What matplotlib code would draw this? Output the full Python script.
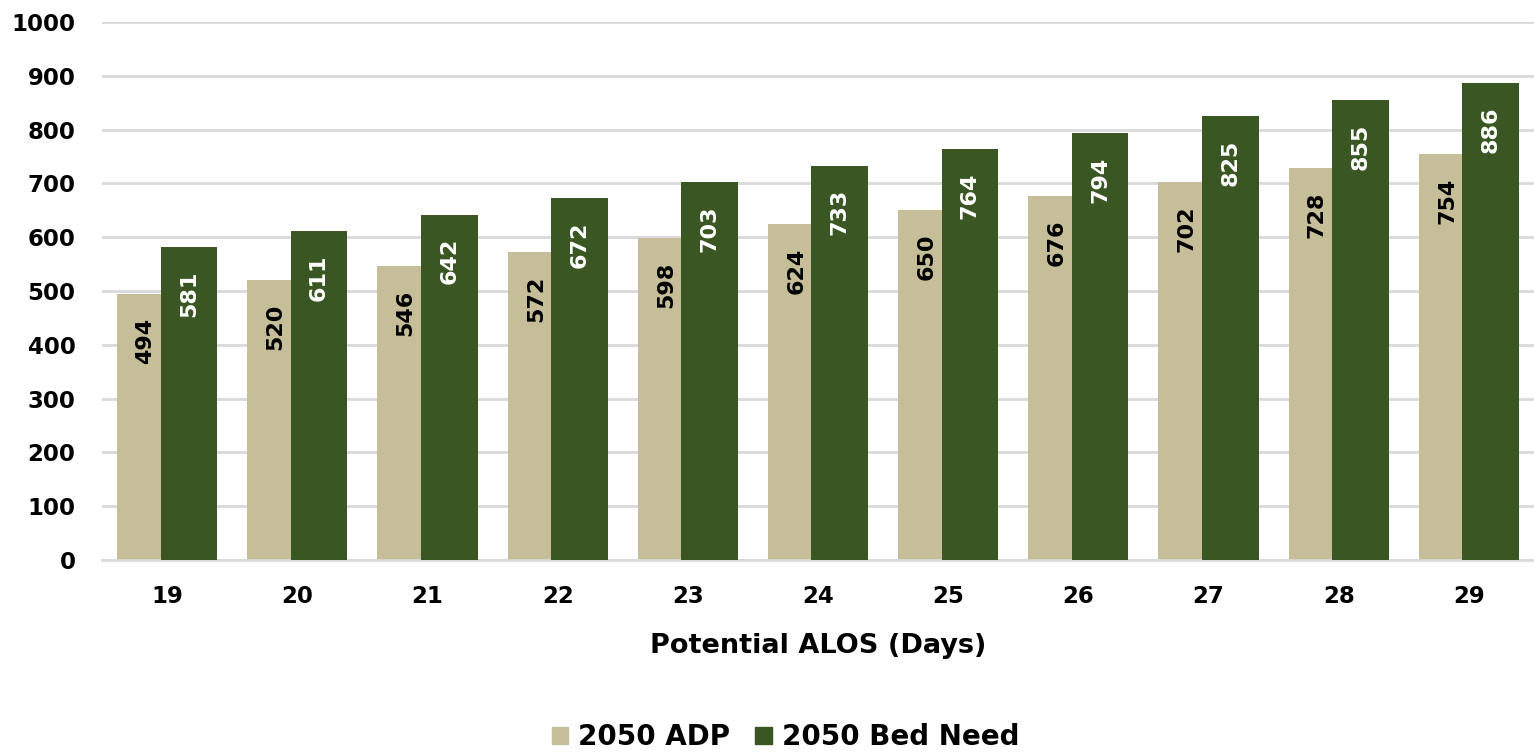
import numpy as np
import matplotlib.pyplot as plt
from matplotlib.patches import Patch

alos_days = ["19", "20", "21", "22", "23", "24", "25", "26", "27", "28", "29"]
adp_2050 = [494, 520, 546, 572, 598, 624, 650, 676, 702, 728, 754]
bed_need_2050 = [581, 611, 642, 672, 703, 733, 764, 794, 825, 855, 886]

TAN = "#C5BE98"
GREEN = "#3A5723"
FONT = "DejaVu Sans"

fig = plt.figure(figsize=(15.34, 7.53), dpi=100)
ax = fig.add_axes([0.0665, 0.2563, 0.9335, 0.7145])

x = np.arange(len(alos_days))
width = 0.435
offset = 0.167

bars_adp = ax.bar(x - offset, adp_2050, width, color=TAN, zorder=2)
bars_bed = ax.bar(x + offset, bed_need_2050, width, color=GREEN, zorder=3)

# value labels, rotated, inside the top of each bar
for bars, color in ((bars_adp, "black"), (bars_bed, "white")):
    for b in bars:
        h = b.get_height()
        ax.annotate(f"{h:.0f}", (b.get_x() + b.get_width() / 2, h),
                    xytext=(0, -17), textcoords="offset points",
                    ha="center", va="top", rotation=90,
                    fontsize=16, fontweight="bold", family=FONT,
                    color=color, zorder=4)

ax.set_xlim(-0.5, len(alos_days) - 0.5)
ax.set_ylim(0, 1000)
ax.set_yticks(np.arange(0, 1001, 100))
ax.set_xticks(x)
ax.set_xticklabels(alos_days)
ax.yaxis.grid(True, color="#D9D9D9", linewidth=2, zorder=0)
ax.set_axisbelow(True)

for s in ("top", "right", "left"):
    ax.spines[s].set_visible(False)
ax.spines["bottom"].set_color("#D9D9D9")
ax.spines["bottom"].set_linewidth(2)
ax.tick_params(length=0, labelsize=16.5, pad=18)
ax.tick_params(axis="y", pad=19)
for lab in ax.get_xticklabels() + ax.get_yticklabels():
    lab.set_fontweight("bold")
    lab.set_family(FONT)

ax.set_xlabel("Potential ALOS (Days)", fontsize=19.5, fontweight="bold",
              family=FONT, labelpad=18)

handles = [Patch(color=TAN, label="2050 ADP"), Patch(color=GREEN, label="2050 Bed Need")]
fig.legend(handles=handles, loc="center", bbox_to_anchor=(0.512, 0.021), ncol=2,
           frameon=False, prop={"family": FONT, "weight": "bold", "size": 20},
           handlelength=0.6, handleheight=0.6, handletextpad=0.35, columnspacing=0.9)

fig.savefig("out.png", dpi=100)
